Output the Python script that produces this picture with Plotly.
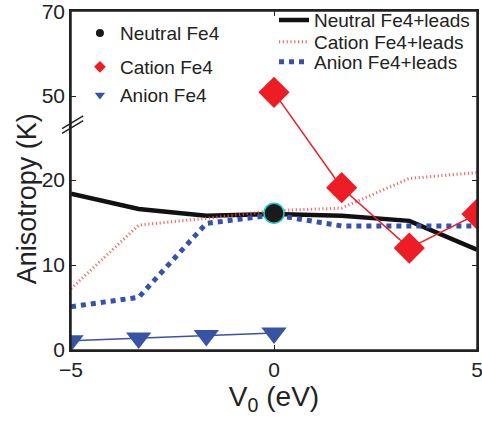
import numpy as np
import plotly.graph_objects as go

# ---- data ----
v0 = [-5, -10/3, -5/3, 0, 5/3, 10/3, 5]
neutral_leads = [18.4, 16.6, 15.8, 16.0, 15.8, 15.2, 11.8]
cation_leads = [7.2, 14.7, 15.5, 16.4, 16.7, 20.6, 22.7]
anion_leads = [5.1, 6.2, 14.9, 15.9, 14.6, 14.6, 14.6]

neutral_x = [0]
neutral_y = [16.1]
cation_x = [0, 5/3, 10/3, 5]
cation_y = [50.9, 19.1, 12.0, 16.0]
anion_x = [-5, -10/3, -5/3, 0]
anion_y = [1.1, 1.4, 1.7, 2.0]

ytick_vals = [0, 10, 20, 50, 70]
ytick_text = ["0", "10", "20", "50", "70"]
xtick_vals = [-5, 0, 5]
xtick_text = ["\u22125", "0", "5"]

# ---- broken y-axis transform: 0-20 linear, 50-70 at half scale ----
LOW_TOP = 20.0
UP_START = 50.0
UP_BASE = 29.88


def tr(vals):
    out = []
    for v in vals:
        if v <= LOW_TOP:
            out.append(v)
        elif v >= UP_START:
            out.append(UP_BASE + (v - UP_START) / 2.0)
        else:
            out.append(LOW_TOP + (v - LOW_TOP) * (UP_BASE - LOW_TOP) / (UP_START - LOW_TOP))
    return out


RED = "#ee1c24"
BLUE = "#3653a5"
INK = "#222222"
FONT = "Liberation Sans, Arial, sans-serif"

fig = go.Figure()

# lines with leads
fig.add_trace(go.Scatter(x=v0, y=tr(neutral_leads), mode="lines",
                         line=dict(color="#111111", width=4.5),
                         name="Neutral Fe4+leads", legend="legend4"))
fig.add_trace(go.Scatter(x=v0, y=tr(cation_leads), mode="lines",
                         line=dict(color="rgba(240,80,80,0.85)", width=3, dash="1.2px,2.6px"),
                         name="Cation Fe4+leads", legend="legend5"))
fig.add_trace(go.Scatter(x=v0, y=tr(anion_leads), mode="lines",
                         line=dict(color=BLUE, width=5, dash="5px,5px"),
                         name="Anion Fe4+leads", legend="legend6"))

# isolated molecule series (plotted, legend via small dummies)
fig.add_trace(go.Scatter(x=cation_x, y=tr(cation_y), mode="lines+markers",
                         line=dict(color=RED, width=1.5),
                         marker=dict(symbol="diamond", size=24, color=RED),
                         showlegend=False))
fig.add_trace(go.Scatter(x=anion_x, y=tr(anion_y), mode="lines+markers",
                         line=dict(color=BLUE, width=1.5),
                         marker=dict(symbol="triangle-down", size=22, color=BLUE),
                         showlegend=False))
fig.add_trace(go.Scatter(x=neutral_x, y=tr(neutral_y), mode="markers",
                         marker=dict(symbol="circle", size=20, color="#1a1a1a",
                                     line=dict(color="#22cccc", width=1.5)),
                         showlegend=False))

# legend entries (small markers)
fig.add_trace(go.Scatter(x=[None], y=[None], mode="markers", name="Neutral Fe4",
                         marker=dict(symbol="circle", size=8, color="#1a1a1a"),
                         legend="legend"))
fig.add_trace(go.Scatter(x=[None], y=[None], mode="markers", name="Cation Fe4",
                         marker=dict(symbol="diamond", size=9, color=RED),
                         legend="legend2"))
fig.add_trace(go.Scatter(x=[None], y=[None], mode="markers", name="Anion Fe4",
                         marker=dict(symbol="triangle-down", size=9, color=BLUE),
                         legend="legend3"))

# plot frame
fig.add_shape(type="rect", xref="paper", yref="paper", x0=0, x1=1, y0=0, y1=1,
              line=dict(color=INK, width=1.5), layer="above")

# axis-break marks
for dy in (0.0, 0.55):
    fig.add_shape(type="line", xref="paper", yref="y",
                  x0=-0.022, x1=0.03, y0=25.5 + dy, y1=27.0 + dy,
                  line=dict(color=INK, width=1.5))

axis_common = dict(showline=True, linecolor=INK, linewidth=1.5, mirror="ticks",
                   ticks="inside", ticklen=5, tickwidth=1, tickcolor=INK,
                   showgrid=False, zeroline=False, automargin=False,
                   ticklabeloverflow="allow",
                   tickfont=dict(family=FONT, size=21, color=INK))

fig.update_xaxes(range=[-5, 5], tickvals=xtick_vals, ticktext=xtick_text,
                 title=dict(text="V<sub>0</sub> (eV)", font=dict(family=FONT, size=28, color=INK),
                            standoff=4),
                 **axis_common)
fig.update_yaxes(range=[0, tr([70])[0] + 0.02], tickvals=tr(ytick_vals), ticktext=ytick_text,
                 **axis_common)

# y-axis title
fig.add_annotation(text="Anisotropy (K)", textangle=-90, xref="paper", yref="paper",
                   x=-0.108, y=0.445, xanchor="center", yanchor="middle", showarrow=False,
                   font=dict(family=FONT, size=27, color=INK))

leg_font = dict(family=FONT, size=19, color=INK)


def leg(x, y):
    return dict(x=x, y=y, xanchor="left", yanchor="middle",
                bgcolor="rgba(0,0,0,0)", font=leg_font)


fig.update_layout(
    width=482, height=423,
    margin=dict(l=71, r=5, t=11, b=73, autoexpand=False),
    plot_bgcolor="white", paper_bgcolor="white",
    font=dict(family=FONT, color=INK),
    legend=leg(0.022, 0.935),
    legend2=leg(0.022, 0.835),
    legend3=leg(0.022, 0.752),
    legend4=leg(0.50, 0.973),
    legend5=leg(0.50, 0.909),
    legend6=leg(0.50, 0.850),
)

fig.write_html("out.html", config={"displayModeBar": False},
               post_script="document.body.style.margin='0';")
